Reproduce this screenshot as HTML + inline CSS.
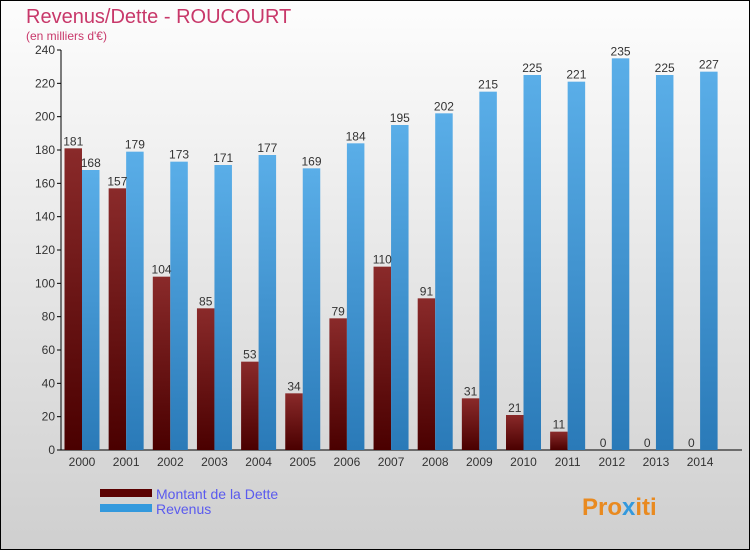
<!DOCTYPE html>
<html><head><meta charset="utf-8"><style>
body{margin:0;width:750px;height:550px;overflow:hidden;font-family:"Liberation Sans",sans-serif}
</style></head><body>
<svg width="750" height="550" xmlns="http://www.w3.org/2000/svg">
<defs>
<linearGradient id="bg" x1="0" y1="0" x2="0" y2="1"><stop offset="0" stop-color="#fdfdfd"/><stop offset="1" stop-color="#cfcfcf"/></linearGradient>
<linearGradient id="gd" x1="0" y1="0" x2="0" y2="1"><stop offset="0" stop-color="#8a2a2a"/><stop offset="1" stop-color="#4a0000"/></linearGradient>
<linearGradient id="gr" x1="0" y1="0" x2="0" y2="1"><stop offset="0" stop-color="#5aaee8"/><stop offset="1" stop-color="#2a7ab8"/></linearGradient>
</defs>
<rect x="0.5" y="0.5" width="749" height="549" fill="url(#bg)" stroke="#000"/>
<text x="26" y="23" font-size="20" fill="#c8386a">Revenus/Dette - ROUCOURT</text>
<text x="26" y="40" font-size="12" fill="#c8386a">(en milliers d'€)</text>
<g id="axes"></g><g id="bars"></g>
<rect x="100" y="489" width="52" height="8" fill="#5a0000"/>
<text x="156" y="499" font-size="14" fill="#5a5aee">Montant de la Dette</text>
<rect x="100" y="504" width="52" height="8" fill="#3399dd"/>
<text x="156" y="514" font-size="14" fill="#5a5aee">Revenus</text>
<text x="582" y="515" font-size="24" font-weight="bold" fill="#e98a20">Pro<tspan fill="#3399dd">x</tspan>iti</text>
</svg>
<script>
const years=["2000","2001","2002","2003","2004","2005","2006","2007","2008","2009","2010","2011","2012","2013","2014"];
const dette=[181,157,104,85,53,34,79,110,91,31,21,11,0,0,0];
const revenus=[168,179,173,171,177,169,184,195,202,215,225,221,235,225,227];
const yTicks=[0,20,40,60,80,100,120,140,160,180,200,220,240];
const NS="http://www.w3.org/2000/svg";
const y0=450,ppu=400/240,x0=82,step=44.15,bw=17.5;
const Y=v=>y0-v*ppu, X=i=>x0+i*step;
function mk(t,a,p){const e=document.createElementNS(NS,t);for(const k in a)e.setAttribute(k,a[k]);p.appendChild(e);return e;}
const ax=document.getElementById('axes'),bars=document.getElementById('bars');
const yl=mk('line',{x1:61,y1:50,x2:61,y2:450,stroke:'#000'},ax);


const xl=mk('line',{x1:61,y1:450,x2:742,y2:450,stroke:'#000'},ax);


yTicks.forEach(v=>{
 mk('line',{x1:57,y1:Y(v),x2:61,y2:Y(v),stroke:'#000'},ax);
 const t=mk('text',{x:55,y:Y(v)+4,'font-size':12,'text-anchor':'end',fill:'#333'},ax);t.textContent=v;
 
 
});
years.forEach((yr,i)=>{
 const cx=X(i);
 const t=mk('text',{x:cx,y:466,'font-size':12,'text-anchor':'middle',fill:'#333'},ax);t.textContent=yr;
 
 
 const d=mk('rect',{x:cx-bw,y:Y(dette[i]),width:bw,height:dette[i]*ppu,fill:'url(#gd)'},bars);
 
 
 const r=mk('rect',{x:cx,y:Y(revenus[i]),width:bw,height:revenus[i]*ppu,fill:'url(#gr)'},bars);
 
 
 const dl=mk('text',{x:cx-bw/2,y:Y(dette[i])-3,'font-size':12,'text-anchor':'middle',fill:'#333'},bars);dl.textContent=dette[i];
 
 
 const rl=mk('text',{x:cx+bw/2,y:Y(revenus[i])-3,'font-size':12,'text-anchor':'middle',fill:'#333'},bars);rl.textContent=revenus[i];
 
 
});
</script>
</body></html>
